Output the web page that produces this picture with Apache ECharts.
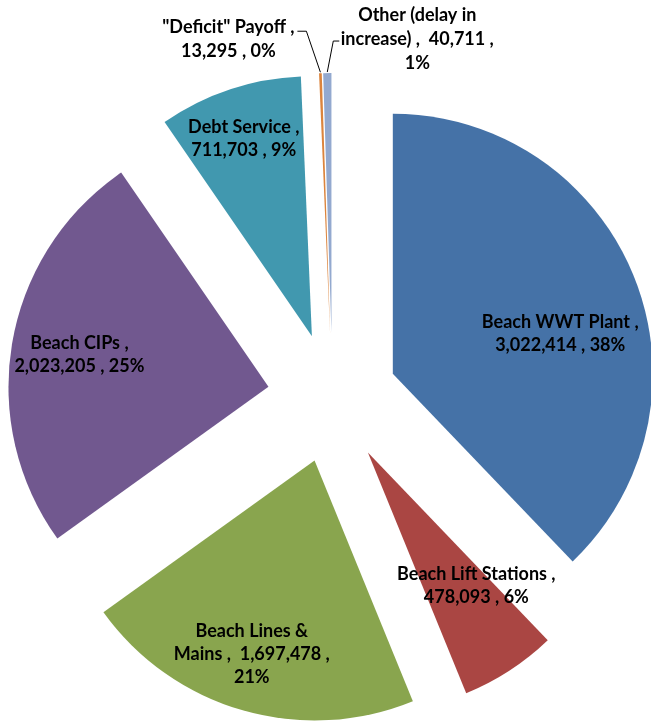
<!DOCTYPE html>
<html>
<head>
<meta charset="utf-8">
<script src="https://cdn.jsdelivr.net/npm/echarts@6/dist/echarts.min.js"></script>
<style>
html,body{margin:0;padding:0;background:#fff;}
#chart{width:651px;height:721px;}
</style>
</head>
<body>
<div id="chart"></div>
<script>
// ---- data ----
const categories = ['Beach WWT Plant', 'Beach Lift Stations', 'Beach Lines &\nMains', 'Beach CIPs', 'Debt Service', '"Deficit" Payoff', 'Other (delay in\nincrease)'];
const values = [3022414, 478093, 1697478, 2023205, 711703, 13295, 40711];
const colors = ['#4572A7', '#AA4643', '#89A54E', '#71588F', '#4198AF', '#DB843D', '#93A9CF'];

// ---- layout constants (style, not data) ----
const CX = 332.5, CY = 398, R = 260, OFFSET = 65;
const insideNudge = [[44, 9], [36, 22], [-26, 66], [-58, -9], [-26, -72]];
// outside labels: label centre x / top relative to slice's outer tip, plus leader bends
const outsideLayout = {
  5: { cx: -92, top: -58, line: [[0, -1], [-14, -42], [-23, -42]] },
  6: { cx: 90, top: -70, line: [[0, -1], [6, -32], [12, -32]] }
};

const fmt = v => v.toLocaleString('en-US');
const labelText = p => {
  if (p.name.indexOf('\n') >= 0) {
    return p.name + ' ,  ' + fmt(p.value) + ' ,\n' + p.percent + '%';
  }
  return p.name + ' ,\n' + fmt(p.value) + ' , ' + p.percent + '%';
};

const total = values.reduce((a, b) => a + b, 0);
function midAngle(i) {
  let before = 0;
  for (let k = 0; k < i; k++) before += values[k];
  return (before + values[i] / 2) / total * 2 * Math.PI; // clockwise from 12 o'clock
}

const data = categories.map((c, i) => {
  const outside = i >= 5;
  return {
    name: c,
    value: values[i],
    selected: true,
    itemStyle: { color: colors[i] },
    label: outside ? { position: 'outside', lineHeight: 24 } : { position: 'inside' },
    labelLine: { show: outside, length: 20, length2: 10, lineStyle: { color: '#000', width: 1 } }
  };
});

const chart = echarts.init(document.getElementById('chart'), null, { renderer: 'canvas' });
chart.setOption({
  animation: false,
  backgroundColor: '#fff',
  series: [{
    type: 'pie',
    center: [CX, CY],
    radius: [0, R],
    startAngle: 90,
    clockwise: true,
    selectedMode: 'multiple',
    selectedOffset: OFFSET,
    avoidLabelOverlap: false,
    percentPrecision: 0,
    emphasis: { disabled: true },
    select: { itemStyle: { borderWidth: 0 } },
    itemStyle: { borderWidth: 0 },
    label: {
      show: true,
      color: '#000',
      fontFamily: 'Lato',
      fontWeight: 'bold',
      fontSize: 18,
      lineHeight: 23,
      align: 'center',
      formatter: labelText
    },
    labelLayout: function (params) {
      const i = params.dataIndex;
      if (i < 5) {
        return { dx: insideNudge[i][0], dy: insideNudge[i][1] };
      }
      const L = outsideLayout[i];
      const a = midAngle(i);
      const sx = Math.sin(a), sy = -Math.cos(a);
      const tip = [CX + (R + OFFSET) * sx, CY + (R + OFFSET) * sy];   // global
      const off = [OFFSET * sx, OFFSET * sy];                          // select shift
      const lr = params.labelRect;
      const al = params.align || 'right';
      const va = params.verticalAlign || 'middle';
      const ax = al === 'right' ? lr.x + lr.width : (al === 'center' ? lr.x + lr.width / 2 : lr.x);
      const ay = va === 'bottom' ? lr.y + lr.height : (va === 'middle' ? lr.y + lr.height / 2 : lr.y);
      return {
        dx: tip[0] + L.cx - ax - off[0],
        dy: tip[1] + L.top - ay - off[1],
        align: 'center',
        verticalAlign: 'top',
        labelLinePoints: L.line.map(p => [tip[0] + p[0] - off[0], tip[1] + p[1] - off[1]])
      };
    },
    data: data
  }]
});
</script>
</body>
</html>
